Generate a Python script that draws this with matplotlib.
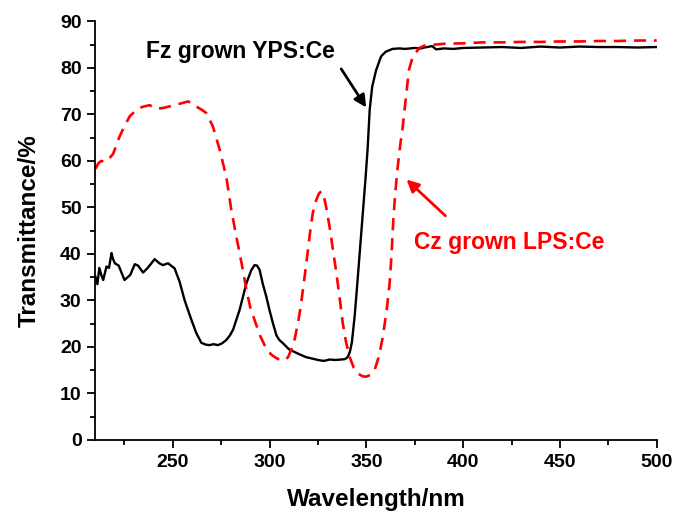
import numpy as np
import matplotlib
matplotlib.use("Agg")
import matplotlib.pyplot as plt
from matplotlib.ticker import MultipleLocator

# Fz grown YPS:Ce (black solid)
fz_wl = [210, 211, 212, 213, 214, 215.7, 217, 218.3, 219, 220, 222, 225, 228, 230.3, 232,
         234.6, 237, 240.6, 243, 244.9, 247.5, 250.9, 253.5, 256.1, 259.6, 262.1, 264.7,
         267, 269, 271, 273.3, 275.5, 277.6, 279.5, 281.1, 284.5, 288, 290.5, 292.2, 293.5,
         294.8, 296.5, 298.3, 300, 301.7, 303.5, 305, 306.9, 310, 315, 318.9, 322, 325,
         328, 331, 334, 337, 339, 340.3, 341.5, 342.5, 343.9, 345, 346.5, 348, 349.5,
         350.6, 351.7, 353, 355, 357.6, 360, 363.5, 367, 370, 375, 378, 380, 384, 386,
         390, 395, 400, 410, 420, 430, 440, 450, 460, 470, 480, 490, 500]
fz_t = [35.1, 33.5, 37, 35.5, 34.4, 37.3, 37, 40.2, 39, 38, 37.5, 34.4, 35.5, 37.8, 37.5,
        36, 37, 38.9, 38, 37.6, 38, 36.9, 34, 30, 25.8, 23, 20.9,
        20.5, 20.4, 20.6, 20.4, 20.8, 21.5, 22.5, 23.7, 28, 33.7, 36.5, 37.6, 37.5,
        36.6, 33.5, 30.8, 27.8, 25.1, 22.5, 21.5, 20.8, 19.5, 18.5, 17.8, 17.5, 17.2,
        17.0, 17.3, 17.2, 17.3, 17.4, 17.8, 19, 21, 26.5, 32, 40, 48, 56,
        62.4, 71, 76, 79.5, 82.5, 83.5, 84.1, 84.2, 84.1, 84.3, 84.2, 84.4, 84.7, 84.0,
        84.2, 84.1, 84.3, 84.4, 84.5, 84.3, 84.6, 84.4, 84.6, 84.5, 84.5, 84.4, 84.5]

# Cz grown LPS:Ce (red dashed)
cz_wl = [210, 211.5, 213, 215, 217, 219.1, 222.5, 225, 227.7, 231.2, 234, 238, 241.5, 244.9,
         249, 253.5, 257.8, 260, 262.1, 265, 267.3, 270.7, 274.2, 277.6, 280.2, 282.8,
         284.5, 286.2, 288, 290, 292.2, 295, 298.3, 301, 303.5, 305.5, 307.7, 309.5, 311.2,
         313, 314.6, 316, 317.2, 318.5, 319.8, 321, 322.3, 324, 325.5, 326.7, 328, 329,
         330.1, 331.5, 332.7, 334, 335.2, 336.5, 337.8, 339.5, 341.3, 343.5, 345.6, 348,
         349.9, 352, 354.2, 356.5, 358.5, 360.5, 362, 363, 364, 365, 366.2, 367.5, 368.6,
         370.5, 372, 374, 377.4, 380, 385, 390, 400, 410, 420, 430, 440, 450, 460, 470,
         480, 490, 500]
cz_t = [58.3, 59.5, 60, 59.8, 60.5, 61.5, 65.3, 67.5, 69.6, 71, 71.6, 72, 71.2, 71.4,
        71.8, 72.3, 72.8, 72.4, 71.7, 71, 70.3, 67.4, 62.4, 56.6, 49.5, 43.7,
        40.2, 36.5, 32.3, 28.5, 25.8, 22.5, 19.6, 18.3, 17.6, 17.2, 17.1, 17.8, 19.4,
        21.8, 25.1, 28.5, 32.3, 36.5, 40.9, 45, 48.8, 51.5, 53, 53.5, 52.5, 50.5,
        48, 44.5, 40.9, 37.3, 33.7, 29.5, 25.1, 21, 17.9, 15.5, 14.3, 13.7,
        13.6, 14, 15, 18, 22.2, 28, 33.7, 40, 48, 53.5, 58.8, 63.5, 66.7,
        74, 79.6, 82.5, 84.3, 84.8, 85, 85.2, 85.3, 85.5, 85.5, 85.6, 85.6, 85.7, 85.7, 85.8,
        85.8, 85.9, 85.9]

plt.rcParams['font.family'] = ['Liberation Sans', 'DejaVu Sans']
plt.rcParams['font.weight'] = 'bold'

fig = plt.figure(figsize=(6.77, 5.11), dpi=100)
ax = fig.add_axes([0.141, 0.139, 0.829, 0.819])

ax.plot(fz_wl, fz_t, color='black', lw=1.7)
ax.plot(cz_wl, cz_t, color='red', lw=1.9, linestyle=(0, (4.6, 3.0)))

ax.set_xlim(210, 500)
ax.set_ylim(0, 90)
ax.xaxis.set_major_locator(MultipleLocator(50))
ax.xaxis.set_minor_locator(MultipleLocator(25))
ax.yaxis.set_major_locator(MultipleLocator(10))
ax.yaxis.set_minor_locator(MultipleLocator(5))
ax.set_xticks([250, 300, 350, 400, 450, 500])

for s in ['top', 'right']:
    ax.spines[s].set_visible(False)
for s in ['left', 'bottom']:
    ax.spines[s].set_linewidth(1.3)

ax.tick_params(which='major', direction='out', length=6, width=1.3, labelsize=14, pad=4)
ax.tick_params(which='minor', direction='out', length=3.5, width=1.3)
for lab in ax.get_xticklabels() + ax.get_yticklabels():
    lab.set_fontweight('bold')

ax.set_xlabel('Wavelength/nm', fontsize=17.5, fontweight='bold', labelpad=12)
ax.set_ylabel('Transmittance/%', fontsize=17.5, fontweight='bold', labelpad=14)

ax.annotate('', xy=(350.7, 71.0), xytext=(336.2, 80.3),
            arrowprops=dict(arrowstyle='-|>', color='black', lw=2, mutation_scale=18))
ax.text(285, 83.5, 'Fz grown YPS:Ce', fontsize=16.5, fontweight='bold',
        color='black', ha='center', va='center')

ax.annotate('', xy=(369.7, 56.4), xytext=(391.9, 47.8),
            arrowprops=dict(arrowstyle='-|>', color='red', lw=2, mutation_scale=18))
ax.text(424, 42.4, 'Cz grown LPS:Ce', fontsize=16.5, fontweight='bold',
        color='red', ha='center', va='center')

fig.savefig('out.png', dpi=100)
